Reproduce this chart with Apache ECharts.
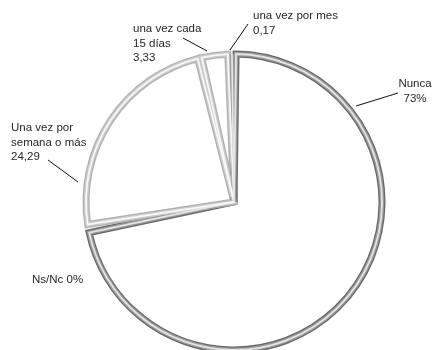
<!DOCTYPE html>
<html>
<head>
<meta charset="utf-8">
<script src="https://cdn.jsdelivr.net/npm/echarts@6/dist/echarts.min.js"></script>
<style>
  html, body { margin: 0; padding: 0; background: #ffffff; }
  #chart { width: 435px; height: 350px; }
</style>
</head>
<body>
<div id="chart"></div>
<script>
// Frecuencia declarada (porcentajes)
const categories = ['Nunca', 'Ns/Nc', 'Una vez por\nsemana o más', 'una vez cada\n15 días', 'una vez por mes'];
const values = [73, 0, 24.29, 3.33, 0.17];
const valueLabels = ['73%', '0%', '24,29', '3,33', '0,17'];

// Outline tone of each slice
const tones = ['dark', 'none', 'light', 'light', 'dark'];

// Layered strokes giving the outline its tube look (outer -> inner)
const strokeLayers = [
  { width: 7,   dark: '#686868', light: '#b0b0b0' },
  { width: 4.5, dark: '#9a9a9a', light: '#cbcbcb' },
  { width: 1.8, dark: '#e4e4e4', light: '#f7f7f7' }
];

// Label anchors and leader lines
const labelSpots = [
  { x: 415, y: 77,  align: 'center', line: [[356, 106], [377, 99.5], [398, 93]] },
  { x: 32,  y: 273, align: 'left',   line: null },
  { x: 11,  y: 121, align: 'left',   line: [[78, 182], [63, 171], [48, 160]] },
  { x: 133, y: 22,  align: 'left',   line: [[207, 51], [195, 44.5], [183, 38]] },
  { x: 253, y: 9,   align: 'left',   line: [[230, 50], [239, 37], [248, 24]] }
];

const chart = echarts.init(document.getElementById('chart'), null, { renderer: 'canvas' });

function buildSeries(layer, idx) {
  const withLabels = idx === 0;
  return {
    type: 'pie',
    center: [234, 202],
    radius: [0, 148],
    startAngle: 90,
    clockwise: true,
    padAngle: 1.6,
    avoidLabelOverlap: false,
    silent: true,
    animation: false,
    emphasis: { disabled: true },
    z: 2 + idx,
    label: withLabels ? {
      show: true,
      position: 'outside',
      color: '#262626',
      fontFamily: 'Liberation Sans, Arial, Helvetica, sans-serif',
      fontSize: 11.5,
      lineHeight: 14.5,
      formatter: function (p) {
        const sep = values[p.dataIndex] === 0 ? ' ' : '\n';
        return categories[p.dataIndex] + sep + valueLabels[p.dataIndex];
      }
    } : { show: false },
    labelLine: withLabels ? {
      show: true,
      lineStyle: { color: '#111111', width: 1 }
    } : { show: false },
    labelLayout: withLabels ? function (params) {
      const s = labelSpots[params.dataIndex];
      const out = { x: s.x, y: s.y, align: s.align, verticalAlign: 'top' };
      if (s.line) out.labelLinePoints = s.line;
      return out;
    } : undefined,
    data: categories.map(function (name, i) {
      const tone = tones[i];
      return {
        name: name,
        value: values[i],
        labelLine: { show: withLabels && !!labelSpots[i].line },
        itemStyle: {
          color: idx === 0 ? '#ffffff' : 'rgba(0,0,0,0)',
          borderColor: tone === 'none' ? 'rgba(0,0,0,0)' : layer[tone],
          borderWidth: tone === 'none' ? 0 : layer.width,
          borderJoin: 'miter'
        }
      };
    })
  };
}

chart.setOption({
  backgroundColor: '#ffffff',
  animation: false,
  series: strokeLayers.map(buildSeries)
});
</script>
</body>
</html>
